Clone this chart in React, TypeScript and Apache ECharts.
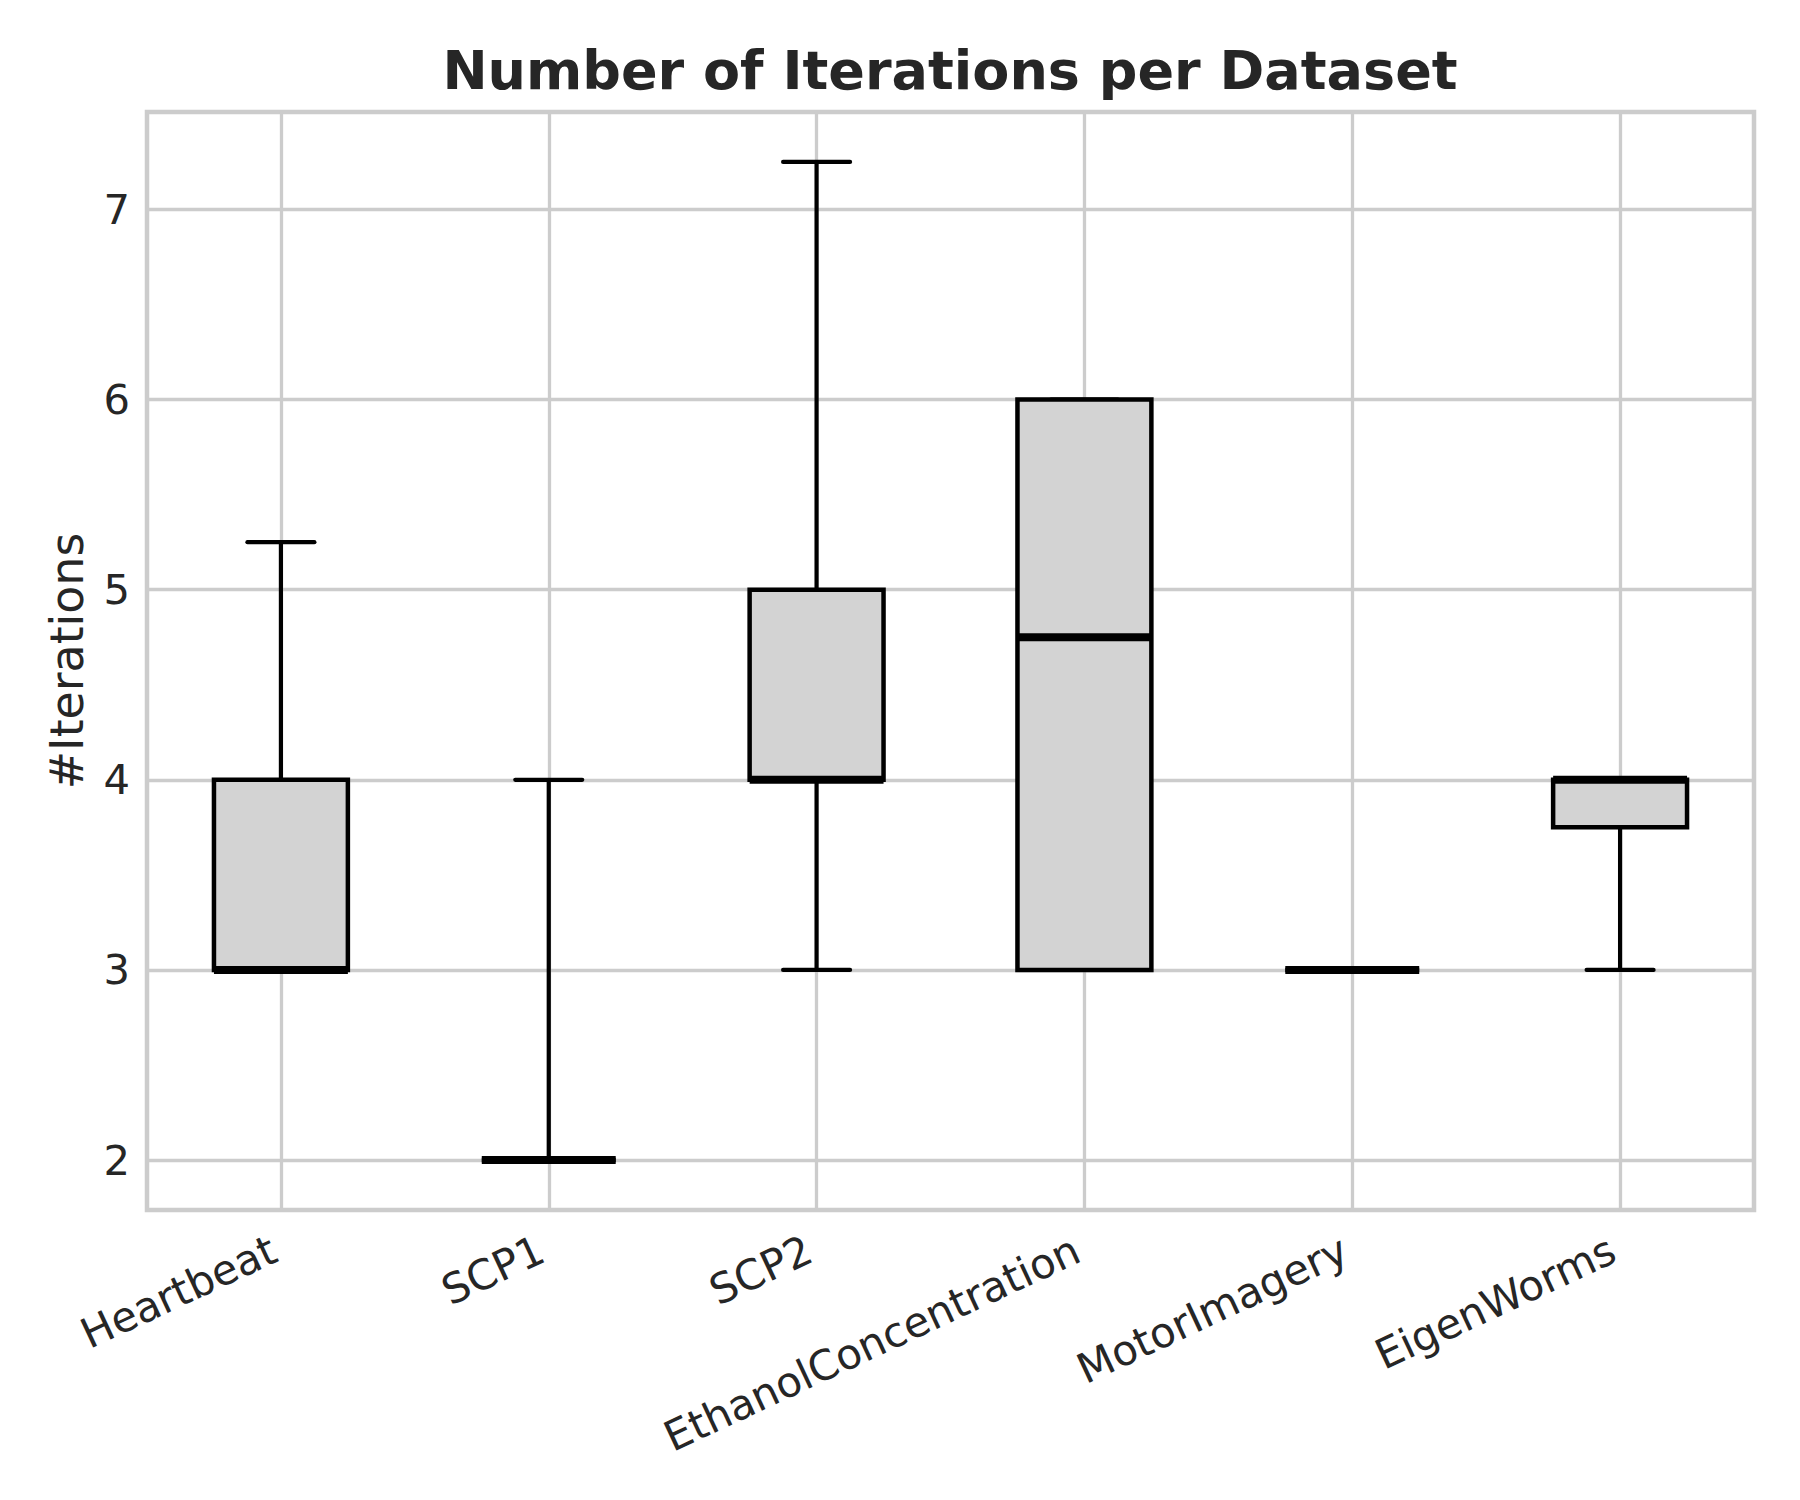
import React, { useEffect, useRef } from "react";
import * as echarts from "echarts";

const categories = ["Heartbeat", "SCP1", "SCP2", "EthanolConcentration", "MotorImagery", "EigenWorms"];
const whiskerLow = [3, 2, 3, 3, 3, 3];
const q1 = [3, 2, 4, 3, 3, 3.75];
const median = [3, 2, 4, 4.75, 3, 4];
const q3 = [4, 2, 5, 6, 3, 4];
const whiskerHigh = [5.25, 4, 7.25, 6, 3, 4];
const yTicks = [2, 3, 4, 5, 6, 7];

const renderItem = (params: any, api: any) => {
  const i = api.value(0);
  const band = api.size([1, 0])[0];
  const bw = band * 0.5;
  const cw = band * 0.25;
  const [cx, yLow] = api.coord([i, api.value(1)]);
  const yQ1 = api.coord([i, api.value(2)])[1];
  const yMed = api.coord([i, api.value(3)])[1];
  const yQ3 = api.coord([i, api.value(4)])[1];
  const yHigh = api.coord([i, api.value(5)])[1];
  const ls = { stroke: "#000000", lineWidth: 4.2, lineCap: "butt", fill: null };
  const cs = { stroke: "#000000", lineWidth: 4.2, lineCap: "round", fill: null };
  return {
    type: "group",
    children: [
      { type: "line", shape: { x1: cx, y1: yQ1, x2: cx, y2: yLow }, style: ls },
      { type: "line", shape: { x1: cx, y1: yQ3, x2: cx, y2: yHigh }, style: ls },
      { type: "line", shape: { x1: cx - cw / 2, y1: yLow, x2: cx + cw / 2, y2: yLow }, style: cs },
      { type: "line", shape: { x1: cx - cw / 2, y1: yHigh, x2: cx + cw / 2, y2: yHigh }, style: cs },
      {
        type: "rect",
        shape: { x: cx - bw / 2, y: yQ3, width: bw, height: yQ1 - yQ3 },
        style: { fill: "#d3d3d3", stroke: "#000000", lineWidth: 4.5 },
      },
      {
        type: "line",
        shape: { x1: cx - bw / 2, y1: yMed, x2: cx + bw / 2, y2: yMed },
        style: { stroke: "#000000", lineWidth: 8, lineCap: "butt", fill: null },
      },
    ],
  };
};

export default function App() {
  const ref = useRef<HTMLDivElement>(null);
  useEffect(() => {
    const chart = echarts.init(ref.current!, null, { renderer: "svg" });
    const data = categories.map((c, i) => [i, whiskerLow[i], q1[i], median[i], q3[i], whiskerHigh[i]]);
    chart.setOption({
      animation: false,
      backgroundColor: "#ffffff",
      textStyle: { fontFamily: "DejaVu Sans" },
      graphic: [
        {
          type: "text",
          x: 950,
          y: 70,
          style: {
            text: "Number of Iterations per Dataset",
            fontFamily: "DejaVu Sans",
            fontWeight: "bold",
            fontSize: 54,
            fill: "#262626",
            align: "center",
            verticalAlign: "middle",
          },
        },
      ],
      grid: {
        left: 147,
        right: 46,
        top: 112,
        bottom: 290,
        show: true,
        borderColor: "#cccccc",
        borderWidth: 4.5,
        backgroundColor: "transparent",
      },
      xAxis: {
        type: "category",
        data: categories,
        boundaryGap: true,
        axisLine: { show: false },
        axisTick: { show: false, alignWithLabel: true },
        splitLine: { show: true, alignWithLabel: true, lineStyle: { color: "#cccccc", width: 3.3 } },
        axisLabel: {
          rotate: 25,
          interval: 0,
          margin: 34,
          padding: [0, 8, 0, 0],
          fontSize: 41.7,
          color: "#262626",
          fontFamily: "DejaVu Sans",
        },
      },
      yAxis: {
        type: "value",
        min: 1.7375,
        max: 7.5125,
        name: "#Iterations",
        nameLocation: "middle",
        nameRotate: 90,
        nameGap: 57,
        nameTextStyle: { fontSize: 45.8, color: "#262626", fontFamily: "DejaVu Sans" },
        axisLine: { show: false },
        axisTick: { show: false, customValues: yTicks },
        splitLine: { show: true, lineStyle: { color: "#cccccc", width: 3.3 } },
        axisLabel: {
          customValues: yTicks,
          margin: 17,
          fontSize: 41.7,
          color: "#262626",
          fontFamily: "DejaVu Sans",
        },
      },
      series: [
        {
          type: "custom",
          renderItem,
          data,
          encode: { x: 0, y: [1, 2, 3, 4, 5] },
          z: 3,
        },
      ],
    });
    return () => chart.dispose();
  }, []);
  return <div ref={ref} style={{ position: "fixed", left: 0, top: 0, width: 1800, height: 1500 }} />;
}
